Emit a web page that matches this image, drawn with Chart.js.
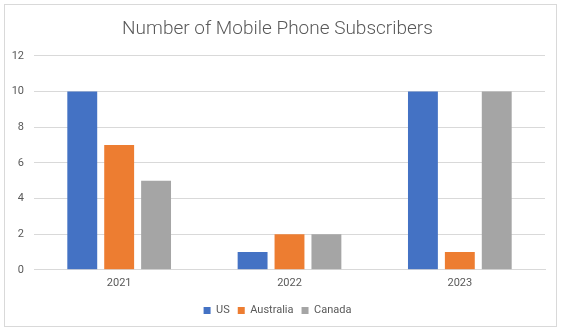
<!DOCTYPE html>
<html lang="en">
<head>
<meta charset="UTF-8">
<title>Number of Mobile Phone Subscribers</title>
<script src="https://cdn.jsdelivr.net/npm/chart.js"></script>
<style>
    body {
        margin: 0;
        background: #fff;
    }
    .frame {
        position: absolute;
        left: 4px;
        top: 4px;
        width: 553px;
        height: 323px;
        border: 1px solid #d9d9d9;
        box-sizing: border-box;
    }
    .wrap {
        position: absolute;
        left: 0;
        top: 0;
        width: 564px;
        height: 334px;
    }
</style>
</head>
<body>
<div class="frame"></div>
<div class="wrap"><canvas id="subsChart"></canvas></div>
<script>
    // Subscribers per year
    const years = ['2021', '2022', '2023'];
    const usValues = [10, 1, 10];
    const australiaValues = [7, 2, 1];
    const canadaValues = [5, 2, 10];
    const yTicks = [0, 2, 4, 6, 8, 10, 12];

    const textColor = '#595959';
    const font = 'Roboto, "Liberation Sans", Arial, sans-serif';

    const ctx = document.getElementById('subsChart').getContext('2d');
    new Chart(ctx, {
        type: 'bar',
        data: {
            labels: years,
            datasets: [
                { label: 'US', data: usValues, backgroundColor: '#4472c4' },
                { label: 'Australia', data: australiaValues, backgroundColor: '#ed7d31' },
                { label: 'Canada', data: canadaValues, backgroundColor: '#a5a5a5' }
            ]
        },
        options: {
            responsive: true,
            maintainAspectRatio: false,
            animation: false,
            datasets: {
                bar: { barPercentage: 0.81, categoryPercentage: 0.65 }
            },
            layout: {
                padding: { left: 10, right: 19, top: 16, bottom: 8 }
            },
            scales: {
                x: {
                    grid: { display: false, drawTicks: false },
                    border: { color: '#d9d9d9' },
                    ticks: { color: textColor, font: { family: font, size: 11 }, padding: 7 }
                },
                y: {
                    min: 0,
                    max: 12,
                    afterFit: axis => { axis.width = 24; },
                    afterBuildTicks: axis => { axis.ticks = yTicks.map(v => ({ value: v })); },
                    grid: { color: '#d9d9d9', drawTicks: false },
                    border: { display: false },
                    ticks: { color: textColor, font: { family: font, size: 11 }, padding: 10 }
                }
            },
            plugins: {
                title: {
                    display: true,
                    text: 'Number of Mobile Phone Subscribers',
                    color: textColor,
                    font: { family: font, size: 19, weight: 300 },
                    padding: { top: 2, bottom: 15 }
                },
                legend: {
                    position: 'bottom',
                    labels: {
                        color: textColor,
                        font: { family: font, size: 11 },
                        boxWidth: 7,
                        boxHeight: 7,
                        padding: 8
                    }
                },
                tooltip: { enabled: false }
            }
        }
    });
</script>
</body>
</html>
